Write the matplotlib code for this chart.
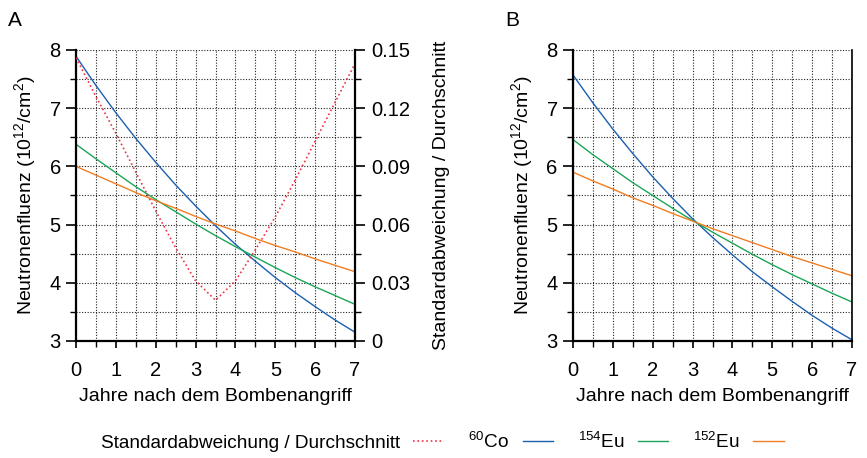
import numpy as np
import matplotlib as mpl
from matplotlib import pyplot as plt
from matplotlib.ticker import MultipleLocator

mpl.rc('font', family=['Liberation Sans', 'DejaVu Sans'], size=14)
mpl.rc('mathtext', fontset='custom', rm='Liberation Sans', it='Liberation Sans')
mpl.rc('axes', labelsize=14)
mpl.rc('xtick', labelsize=14.5)
mpl.rc('ytick', labelsize=14.5)

# Years after the bombing, half-year steps
years = np.arange(0, 7.01, 0.5)

# Panel A: fluence back-calculated from each nuclide
co60_a = [7.89, 7.39, 6.92, 6.48, 6.07, 5.68, 5.32, 4.98, 4.66, 4.37, 4.09, 3.83, 3.59, 3.36, 3.15]
eu154_a = [6.38, 6.13, 5.89, 5.65, 5.43, 5.22, 5.01, 4.81, 4.62, 4.44, 4.26, 4.09, 3.93, 3.78, 3.63]
eu152_a = [6.00, 5.85, 5.70, 5.55, 5.41, 5.28, 5.14, 5.01, 4.89, 4.76, 4.64, 4.53, 4.41, 4.30, 4.19]
# relative standard deviation of the three estimates
rel_std_a = [0.146, 0.126, 0.107, 0.087, 0.067, 0.048, 0.031, 0.021, 0.031, 0.047, 0.064, 0.083, 0.103, 0.123, 0.143]

# Panel B
co60_b = [7.57, 7.09, 6.64, 6.22, 5.82, 5.45, 5.10, 4.78, 4.48, 4.19, 3.93, 3.68, 3.44, 3.22, 3.02]
eu154_b = [6.46, 6.20, 5.96, 5.72, 5.50, 5.28, 5.07, 4.87, 4.68, 4.49, 4.31, 4.14, 3.98, 3.82, 3.67]
eu152_b = [5.90, 5.75, 5.61, 5.46, 5.33, 5.19, 5.06, 4.93, 4.81, 4.69, 4.57, 4.45, 4.34, 4.23, 4.12]

c_blue = '#1a5fb0'
c_green = '#1aa656'
c_orange = '#f07d22'
c_red = '#ee3346'

xlabel = "Jahre nach dem Bombenangriff"
ylabel = "Neutronenfluenz (10$^{12}$/cm$^2$)"
ratio_label = "Standardabweichung / Durchschnitt"


def style_axes(ax):
    ax.set_xlim(0, 7)
    ax.set_ylim(3, 8)
    ax.xaxis.set_major_locator(MultipleLocator(1))
    ax.xaxis.set_minor_locator(MultipleLocator(0.5))
    ax.yaxis.set_major_locator(MultipleLocator(1))
    ax.yaxis.set_minor_locator(MultipleLocator(0.5))
    ax.grid(which='both', linestyle=(0, (1, 1.5)), color='#222222', linewidth=0.8)
    ax.set_axisbelow(True)
    for side in ['left', 'bottom']:
        ax.spines[side].set_linewidth(1.6)
    ax.spines['top'].set_visible(False)
    ax.spines['right'].set_linewidth(1.2)
    ax.tick_params(axis='y', which='major', direction='out', length=7, width=1.2, pad=4)
    ax.tick_params(axis='y', which='minor', direction='out', length=4, width=1.0)
    ax.tick_params(axis='x', which='major', direction='out', length=5, width=1.2, pad=9.5)
    ax.tick_params(axis='x', which='minor', direction='out', length=4, width=1.0)
    ax.set_xlabel(xlabel, labelpad=6)
    ax.set_ylabel(ylabel, labelpad=8)


fig = plt.figure(figsize=(8.67, 4.58), dpi=100)
ax_a = fig.add_axes([0.0877, 0.2555, 0.3218, 0.6354])
ax_b = fig.add_axes([0.6609, 0.2555, 0.3218, 0.6354])

# Panel A
style_axes(ax_a)
ln_co, = ax_a.plot(years, co60_a, color=c_blue, lw=1.0)
ln_eu154, = ax_a.plot(years, eu154_a, color=c_green, lw=1.0)
ln_eu152, = ax_a.plot(years, eu152_a, color=c_orange, lw=1.0)

ax_r = ax_a.twinx()
ax_r.set_ylim(0, 0.15)
ax_r.yaxis.set_major_locator(MultipleLocator(0.03))
ax_r.yaxis.set_minor_locator(MultipleLocator(0.015))
ax_r.yaxis.set_major_formatter(mpl.ticker.FuncFormatter(lambda v, p: '0' if v == 0 else f'{v:.2f}'))
ax_r.tick_params(axis='y', which='major', direction='out', length=7, width=1.2, pad=5)
ax_r.tick_params(axis='y', which='minor', direction='out', length=4, width=1.0)
ax_r.spines['top'].set_visible(False)
ax_r.spines['right'].set_linewidth(1.6)
ax_r.spines['left'].set_visible(False)
ax_r.spines['bottom'].set_visible(False)
ln_ratio, = ax_r.plot(years, rel_std_a, color=c_red, lw=1.2, linestyle=':')
ax_r.set_ylabel(ratio_label, labelpad=16)

# Panel B
style_axes(ax_b)
ax_b.plot(years, co60_b, color=c_blue, lw=1.0)
ax_b.plot(years, eu154_b, color=c_green, lw=1.0)
ax_b.plot(years, eu152_b, color=c_orange, lw=1.0)

fig.text(0.009, 0.975, "A", fontsize=15, va='top', ha='left')
fig.text(0.583, 0.975, "B", fontsize=15, va='top', ha='left')

fig.legend([ln_ratio, ln_co, ln_eu154, ln_eu152],
           [ratio_label, "$^{60}$Co", "$^{154}$Eu", "$^{152}$Eu"],
           loc='center', bbox_to_anchor=(0.51, 1 - 442 / 458), ncol=4, frameon=False,
           fontsize=13.7, markerfirst=False, handlelength=1.6, handletextpad=0.7,
           columnspacing=1.3)

fig.savefig("out.png", dpi=100)
